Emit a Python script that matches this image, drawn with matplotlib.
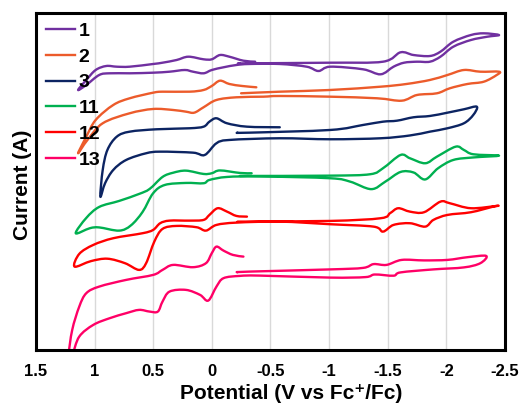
import matplotlib.pyplot as plt
from matplotlib.path import Path
from matplotlib.patches import PathPatch
from matplotlib.lines import Line2D

plt.rcParams['font.family'] = ['Liberation Sans', 'DejaVu Sans']

# cyclic voltammograms, potential (V vs Fc+/Fc) and current (offset, arb. units)
v1 = [-0.37, -0.27, -0.15, -0.07, 0.00, 0.07, 0.20, 0.30, 0.42, 0.50, 0.70, 0.81, 0.90, 0.99, 1.07, 1.14,
      1.07, 0.96, 0.87, 0.70, 0.50, 0.36, 0.23, 0.16, 0.07, 0.00, -0.10, -0.21, -0.32, -0.58,
      -0.81, -0.91, -1.01, -1.29, -1.44, -1.55, -1.64, -1.75, -1.86, -1.95, -2.06, -2.21, -2.35, -2.45,
      -2.32, -2.21, -2.06, -1.95, -1.86, -1.72, -1.61, -1.46, -1.01, -0.32, -0.24]
i1 = [288.3, 289.3, 293.3, 295, 290.7, 290.7, 293.3, 290, 287.3, 286, 283.3, 283.3, 284, 280, 270, 260,
      265, 275, 276.7, 276.7, 277.3, 278.3, 280, 278.3, 276.7, 280, 282.7, 285, 286, 286,
      283.3, 279, 283.3, 280.7, 275.7, 283.3, 287.3, 288.3, 288.3, 293.3, 303.3, 310, 313.3, 315,
      316.7, 315, 308.3, 298.3, 294, 295, 297.7, 288.3, 287.3, 286.7, 286.5]

v2 = [-0.38, -0.26, -0.15, -0.07, 0.00, 0.07, 0.19, 0.42, 0.50, 0.70, 0.84, 0.99, 1.07, 1.14,
      1.06, 0.93, 0.70, 0.50, 0.33, 0.22, 0.15, 0.07, -0.04, -0.21, -0.44, -0.58,
      -1.01, -1.41, -1.62, -1.75, -1.92, -2.03, -2.18, -2.32, -2.43, -2.45,
      -2.29, -2.15, -2.01, -1.86, -1.66, -1.44, -1.01, -0.58, -0.25]
i2 = [262.7, 264, 266, 269.3, 264, 260, 258.3, 258.3, 257.3, 251.7, 245, 230, 213.3, 196.7,
      210, 226.7, 236.7, 241, 240, 238.3, 237.3, 242.7, 250, 252.7, 253.3, 254,
      253.3, 251.7, 249.3, 255, 256.7, 261.7, 266, 268.3, 275, 278.3,
      278.3, 280, 275, 270, 266, 263.3, 260, 258.3, 256.7]

v3 = [-0.58, -0.30, -0.13, -0.04, 0.02, 0.07, 0.19, 0.47, 0.70, 0.81, 0.89, 0.93, 0.95,
      0.91, 0.84, 0.73, 0.56, 0.44, 0.16, 0.06, -0.04, -0.15, -0.58,
      -1.01, -1.44, -1.69, -1.86, -2.01, -2.15, -2.23, -2.26,
      -2.15, -2.01, -1.86, -1.72, -1.58, -1.46, -1.29, -1.01, -0.32, -0.22]
i3 = [222.7, 223.3, 226.7, 231.7, 228.3, 223.3, 221.7, 220.7, 218.3, 213.3, 200, 180, 153.3,
      166.7, 180, 190, 196.7, 198.3, 197.3, 195, 206.7, 210, 211.7,
      210.7, 211.7, 214.5, 218.3, 221.7, 226.7, 235, 243.3,
      240.7, 237.3, 234, 232.7, 229.3, 228.3, 225, 220, 217.3, 217.3]

v11 = [-0.34, -0.24, -0.07, 0.00, 0.07, 0.22, 0.33, 0.42, 0.53, 0.62, 0.79, 0.96, 1.07, 1.16,
       1.04, 0.96, 0.79, 0.69, 0.59, 0.50, 0.40, 0.22, 0.07, 0.02, -0.13, -0.41,
       -1.01, -1.18, -1.36, -1.48, -1.61, -1.72, -1.82, -1.93, -2.06, -2.23, -2.45,
       -2.23, -2.15, -2.08, -1.92, -1.82, -1.69, -1.61, -1.46, -1.35, -1.01, -0.24]
i11 = [176.7, 177, 179.5, 176.7, 176, 179.3, 177.2, 173, 161, 156, 149, 143, 132, 116.7,
       121.7, 122.5, 119.3, 124.5, 138, 156.7, 165, 167, 166.7, 170, 173, 173.5,
       171.7, 168.3, 160.8, 168.3, 178, 177.5, 170.5, 181.7, 190, 192.5, 194.3,
       195.7, 200, 203.3, 193.3, 186.7, 191.7, 195, 181.7, 175.7, 174.3, 174]

v12 = [-0.30, -0.21, -0.13, -0.05, 0.02, 0.07, 0.19, 0.36, 0.44, 0.50, 0.59, 0.84, 1.01, 1.13, 1.17,
       1.03, 0.89, 0.74, 0.62, 0.56, 0.49, 0.42, 0.30, 0.13, 0.05, -0.04, -0.21, -0.58,
       -1.01, -1.38, -1.46, -1.55, -1.69, -1.82, -1.89, -2.01, -2.21, -2.40, -2.43,
       -2.21, -2.03, -1.95, -1.81, -1.69, -1.59, -1.52, -1.44, -1.01, -0.22]
i12 = [133.3, 134, 138.3, 141.7, 135, 130, 129.3, 129.3, 126.7, 120, 116.7, 111.7, 105, 96, 83.3,
       88.8, 91.2, 86.7, 80, 86.7, 108.3, 121, 124, 122.7, 119.3, 125, 127.3, 128.3,
       125.7, 123.3, 118.3, 125, 126.7, 123.3, 130, 135, 137.7, 143.3, 144,
       141.7, 146.7, 148.3, 137.7, 138.3, 141.7, 136.7, 131.7, 129, 128.3]

v13 = [-0.27, -0.18, -0.10, -0.04, 0.00, 0.05, 0.16, 0.33, 0.42, 0.50, 0.73, 0.96, 1.07, 1.13, 1.19, 1.22,
       1.19, 1.13, 1.01, 0.87, 0.73, 0.62, 0.53, 0.46, 0.42, 0.36, 0.22, 0.10, 0.03, -0.04, -0.10, -0.24, -0.41,
       -1.01, -1.31, -1.39, -1.55, -1.61, -1.89, -2.15, -2.29, -2.34,
       -2.18, -2.01, -1.81, -1.62, -1.49, -1.38, -1.29, -1.01, -0.32, -0.22]
i13 = [93.3, 95, 99.3, 103.3, 96.7, 86.7, 82.7, 85, 80, 75, 70, 63.3, 56.7, 43.3, 20, -5,
       -5, 13.3, 25, 31.7, 36.7, 40, 38.3, 38.3, 48.3, 58.3, 60, 55, 49.3, 63.3, 71.7, 74, 74.3,
       72.3, 72.8, 75.4, 74.2, 77.5, 80.5, 82.5, 86.7, 94,
       92.7, 90, 89.5, 90, 85, 85.8, 82, 80.5, 78.3, 77.7]

labels = ['1', '2', '3', '11', '12', '13']
colors = ['#7030A0', '#EC5B2B', '#0C2462', '#00B050', '#FF0000', '#FF0066']
curves = [(v1, i1), (v2, i2), (v3, i3), (v11, i11), (v12, i12), (v13, i13)]

xticks = [1.5, 1, 0.5, 0, -0.5, -1, -1.5, -2, -2.5]
xticklabels = ['1.5', '1', '0.5', '0', '-0.5', '-1', '-1.5', '-2', '-2.5']


def smooth_path(x, y):
    # smoothed line through the points (like Excel's "smoothed line")
    pts = list(zip(x, y))
    n = len(pts)
    verts = [pts[0]]
    codes = [Path.MOVETO]
    for k in range(n - 1):
        p0 = pts[k - 1] if k > 0 else pts[k]
        p1 = pts[k]
        p2 = pts[k + 1]
        p3 = pts[k + 2] if k + 2 < n else pts[k + 1]
        c1 = (p1[0] + (p2[0] - p0[0]) / 6, p1[1] + (p2[1] - p0[1]) / 6)
        c2 = (p2[0] - (p3[0] - p1[0]) / 6, p2[1] - (p3[1] - p1[1]) / 6)
        verts += [c1, c2, p2]
        codes += [Path.CURVE4] * 3
    return Path(verts, codes)


fig = plt.figure(figsize=(5.2, 4.04), dpi=100)
ax = fig.add_axes([0.069, 0.134, 0.902, 0.835])

handles = []
for (v, i), c, lab in zip(curves, colors, labels):
    ax.add_patch(PathPatch(smooth_path(v, i), fill=False, edgecolor=c, lw=1.7,
                           capstyle='round', joinstyle='round'))
    handles.append(Line2D([], [], color=c, lw=1.7, label=lab))

ax.set_xlim(1.5, -2.5)
ax.set_ylim(0, 337.5)
ax.set_xticks(xticks)
ax.set_xticklabels(xticklabels, fontweight='bold', fontsize=12)
ax.set_yticks([])
ax.tick_params(axis='x', length=0, pad=10)
ax.grid(axis='x', color='#D9D9D9', lw=1)
ax.set_axisbelow(True)
for s in ax.spines.values():
    s.set_linewidth(2.2)
    s.set_color('black')

ax.set_xlabel('Potential (V vs Fc\u207a/Fc)', fontweight='bold', fontsize=15)
ax.xaxis.set_label_coords(0.544, -0.1)
ax.set_ylabel('Current (A)', fontweight='bold', fontsize=15)
ax.yaxis.set_label_coords(-0.008, 0.49)

ax.legend(handles=handles, loc='upper left', frameon=False, prop={'weight': 'bold', 'size': 14},
          handlelength=1.5, handletextpad=0.2, labelspacing=0.42,
          borderaxespad=0.1, bbox_to_anchor=(0.0, 1.0))

fig.savefig('out.png', dpi=100)
